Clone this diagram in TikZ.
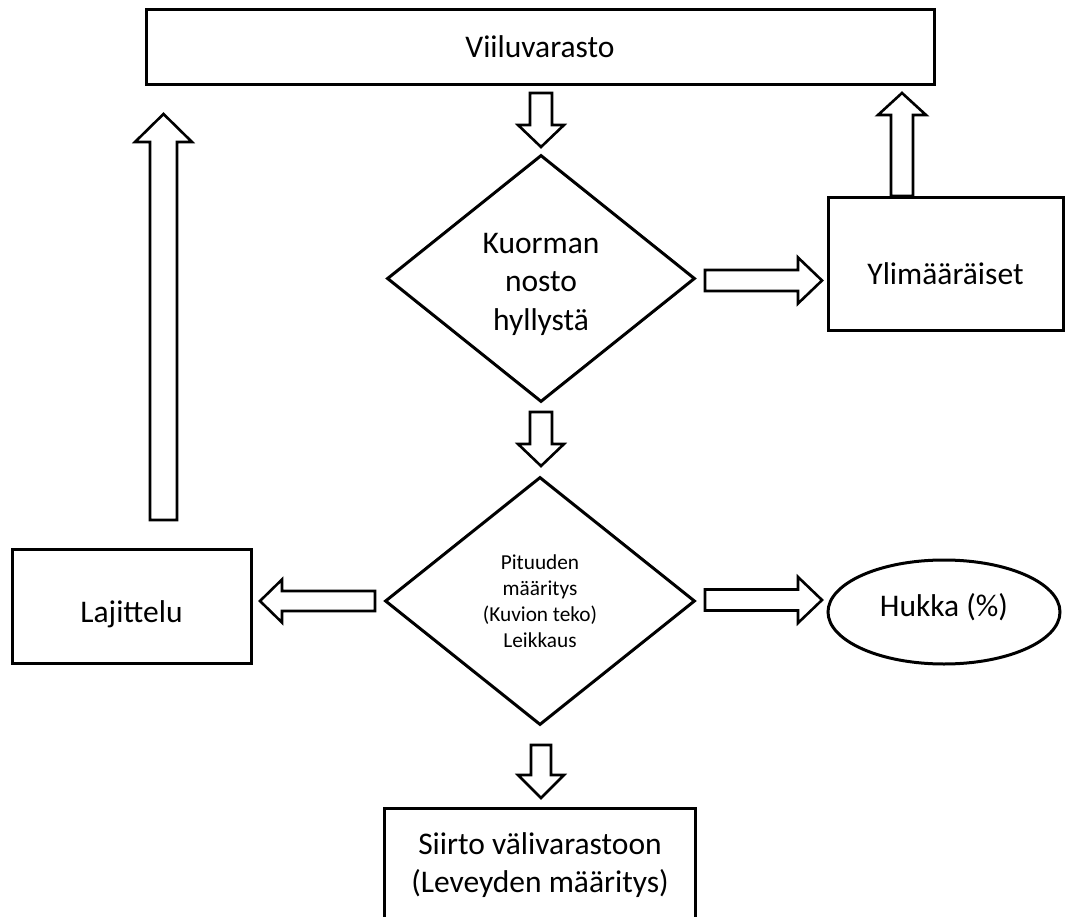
\documentclass[tikz,border=0pt]{standalone}
\usepackage{fontspec}
\setmainfont{Carlito}
\usetikzlibrary{shapes.geometric,calc}

% text sizes used in the chart
\newcommand\bigtxt{\fontsize{31.5}{38.5}\selectfont}
\newcommand\smalltxt{\fontsize{21.3}{26}\selectfont}

\tikzset{
  outline/.style={draw=black, line width=3pt, inner sep=0pt},
  procbox/.style={outline, rectangle, align=center, font=\bigtxt},
  decision/.style={outline, diamond},
  caption/.style={inner sep=0pt, align=center},
  % hollow block arrow: shaft half-width / head half-width / head length
  barrow/.style args={#1/#2/#3}{draw=black, line width=2.6pt, fill=white,
    line join=miter,
    to path={
      ($(\tikztotarget)!#3!(\tikztostart)$) coordinate (bah)
      ($(\tikztostart)!#1!90:(\tikztotarget)$)
      -- ($(bah)!#1!90:(\tikztotarget)$)
      -- ($(bah)!#2!90:(\tikztotarget)$)
      -- (\tikztotarget)
      -- ($(bah)!#2!-90:(\tikztotarget)$)
      -- ($(bah)!#1!-90:(\tikztotarget)$)
      -- ($(\tikztostart)!#1!-90:(\tikztotarget)$)
      -- cycle}}
}

\begin{document}
\begin{tikzpicture}[x=1pt,y=-1pt]
\useasboundingbox (0,0) rectangle (1074,917);
\clip (0,0) rectangle (1074,917);
\fill[white] (0,0) rectangle (1074,917);

% storage at the top
\node[procbox, minimum width=788pt, minimum height=75pt,
      text height=21pt, text depth=0pt] (store) at (540,47.5) {Viiluvarasto};

% lifting the load from the shelf
\node[decision, aspect=1.247, minimum width=308pt, minimum height=247pt]
      (lift) at (541,278.5) {};
\node[caption, font=\bigtxt] (liftlbl) at (541,284.4) {Kuorman\\nosto\\hyllystä};

% surplus
\node[procbox, minimum width=235pt, minimum height=133pt,
      text height=41pt, text depth=0pt] (extra) at (945.5,264.5) {Ylimääräiset};

% length definition and cutting
\node[decision, aspect=1.25, minimum width=310pt, minimum height=248pt]
      (cut) at (540,601) {};
\node[caption, font=\smalltxt] (cutlbl) at (540,601.5)
      {Pituuden\\määritys\\(Kuvion teko)\\Leikkaus};

% sorting
\node[procbox, minimum width=239pt, minimum height=114pt,
      text height=32pt, text depth=0pt] (sort) at (131.5,606) {Lajittelu};

% waste
\node[outline, ellipse, minimum width=232pt, minimum height=104pt,
      font=\bigtxt, text height=8pt, text depth=0pt] (waste) at (944,612) {Hukka (\%)};

% transfer to the intermediate storage
\node[outline, rectangle, minimum width=311pt, minimum height=150pt, anchor=north]
      (transfer) at (539.5,807) {};
\node[caption, font=\bigtxt] (transferlbl) at (540,865)
      {Siirto välivarastoon\\(Leveyden määritys)};

% block arrows
\coordinate (a1s) at (541,93);    \coordinate (a1e) at (541,147);
\coordinate (a2s) at (705,280.5); \coordinate (a2e) at (822,280.5);
\coordinate (a3s) at (902,196);   \coordinate (a3e) at (902,93);
\coordinate (a4s) at (541,412);   \coordinate (a4e) at (541,466);
\coordinate (a5s) at (375,601);   \coordinate (a5e) at (260,601);
\coordinate (a6s) at (705,600);   \coordinate (a6e) at (822,600);
\coordinate (a7s) at (163.5,520); \coordinate (a7e) at (163.5,114);
\coordinate (a8s) at (541,745);   \coordinate (a8e) at (541,798);

\draw[barrow=11pt/23pt/22pt]       (a1s) to (a1e);
\draw[barrow=10.5pt/23pt/24pt]     (a2s) to (a2e);
\draw[barrow=11pt/24pt/22pt]       (a3s) to (a3e);
\draw[barrow=11pt/23pt/22pt]       (a4s) to (a4e);
\draw[barrow=10pt/21.5pt/22pt]     (a5s) to (a5e);
\draw[barrow=10.5pt/23pt/24pt]     (a6s) to (a6e);
\draw[barrow=13.5pt/28.5pt/28pt]   (a7s) to (a7e);
\draw[barrow=10pt/23pt/23pt]       (a8s) to (a8e);
\end{tikzpicture}
\end{document}
